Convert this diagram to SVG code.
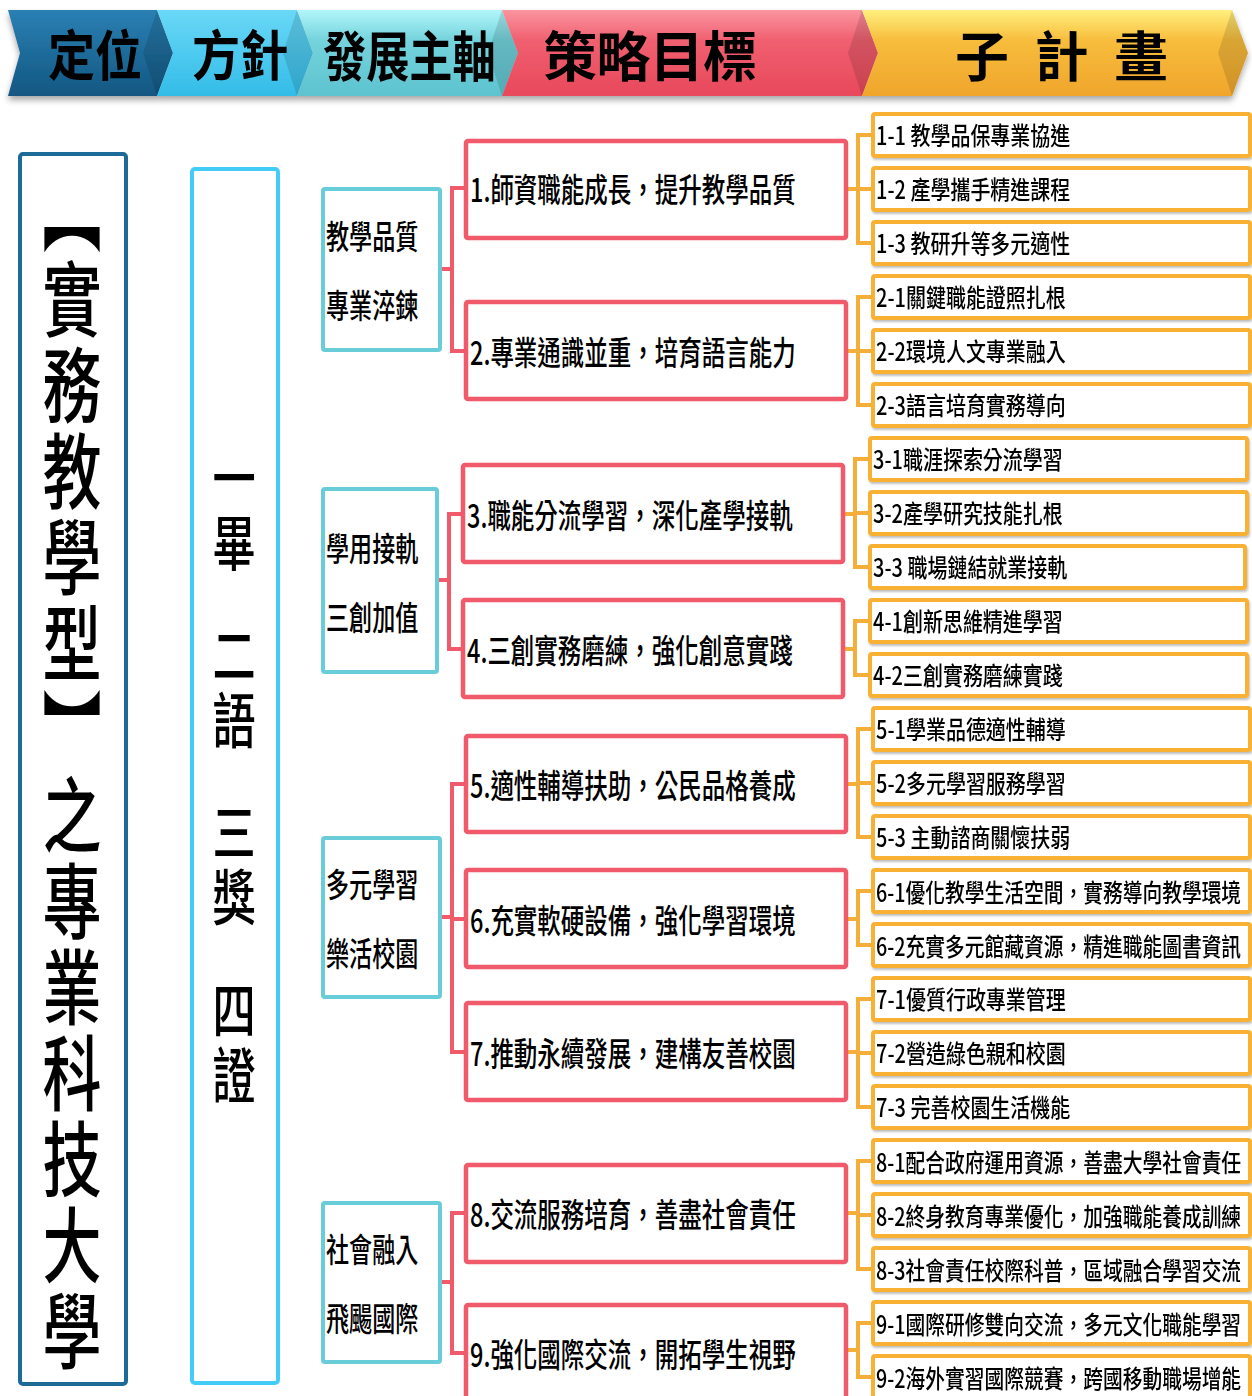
<svg xmlns="http://www.w3.org/2000/svg" width="1252" height="1396" viewBox="0 0 1252 1396">
<defs>
<linearGradient id="g1" x1="0" y1="0" x2="0" y2="1"><stop offset="0" stop-color="#2a80b3"/><stop offset="1" stop-color="#125782"/></linearGradient>
<linearGradient id="g2" x1="0" y1="0" x2="0" y2="1"><stop offset="0" stop-color="#6ad8f7"/><stop offset="1" stop-color="#33bce8"/></linearGradient>
<linearGradient id="g3" x1="0" y1="0" x2="0" y2="1"><stop offset="0" stop-color="#b2f6fb"/><stop offset="0.35" stop-color="#74d3dc"/><stop offset="1" stop-color="#5dc3cf"/></linearGradient>
<linearGradient id="g4" x1="0" y1="0" x2="0" y2="1"><stop offset="0" stop-color="#fb95a0"/><stop offset="0.35" stop-color="#f06070"/><stop offset="1" stop-color="#e8485b"/></linearGradient>
<linearGradient id="g5" x1="0" y1="0" x2="0" y2="1"><stop offset="0" stop-color="#fff07e"/><stop offset="0.35" stop-color="#f7bd3c"/><stop offset="1" stop-color="#f0a52c"/></linearGradient>
<filter id="hs" x="-5%" y="-20%" width="110%" height="150%"><feDropShadow dx="0" dy="4" stdDeviation="3" flood-color="#000" flood-opacity="0.35"/></filter>
<filter id="bs" x="-5%" y="-10%" width="110%" height="130%"><feDropShadow dx="1" dy="2" stdDeviation="1.2" flood-color="#000" flood-opacity="0.25"/></filter>
</defs>
<style>
text { font-family: "Noto Sans CJK TC", "Noto Sans CJK SC", sans-serif; fill: #000; dominant-baseline: central; }
.hd { font-size: 54px; font-weight: 700; }
.vt { font-size: 82px; font-weight: 500; writing-mode: vertical-rl; letter-spacing: 4px; }
.mt { font-size: 60px; font-weight: 500; writing-mode: vertical-rl; letter-spacing: 5px; }
.st { font-size: 33px; font-weight: 500; }
.gt { font-size: 33px; font-weight: 500; }
.pt { font-size: 25px; font-weight: 500; }
.sbox { fill: #fff; stroke: #68cdd9; stroke-width: 4; }
.gbox { fill: #fff; stroke: #f05a6a; stroke-width: 4.5; }
.pbox { fill: #fff; stroke: #f8b133; stroke-width: 4; }
.rc { fill: none; stroke: #f05a6a; stroke-width: 4; }
.oc { fill: none; stroke: #f5ae3a; stroke-width: 4; }
.facet { fill: #000; opacity: 0.12; }
</style>

<g id="header" filter="url(#hs)">
  <g id="h-pos">
    <polygon points="8,10 157,10 173,53 157,96 8,96 20,53" fill="url(#g1)"/>
    <polygon class="facet" points="157,10 173,53 157,96 143,53"/>
    <text class="hd" transform="translate(48,53) scale(0.87,1)">定位</text>
  </g>
  <g id="h-policy">
    <polygon points="157,10 297,10 313,53 297,96 157,96 173,53" fill="url(#g2)"/>
    <polygon class="facet" points="297,10 313,53 297,96 283,53"/>
    <text class="hd" transform="translate(192,53) scale(0.89,1)">方針</text>
  </g>
  <g id="h-axis">
    <polygon points="297,10 502,10 518,53 502,96 297,96 313,53" fill="url(#g3)"/>
    <polygon class="facet" points="502,10 518,53 502,96 488,53"/>
    <text class="hd" transform="translate(323,53) scale(0.8,1)">發展主軸</text>
  </g>
  <g id="h-goal">
    <polygon points="502,10 862,10 878,53 862,96 502,96 518,53" fill="url(#g4)"/>
    <polygon class="facet" points="862,10 878,53 862,96 848,53"/>
    <text class="hd" x="543" y="53" textLength="214" lengthAdjust="spacing">策略目標</text>
  </g>
  <g id="h-sub">
    <polygon points="862,10 1232,10 1248,53 1232,96 862,96 878,53" fill="url(#g5)"/>
    <polygon class="facet" points="1232,10 1248,53 1232,96 1218,53"/>
    <text class="hd" x="955" y="53" textLength="213" lengthAdjust="spacing">子計畫</text>
  </g>
</g>

<g id="positioning">
  <rect x="20" y="154" width="106" height="1230" rx="3" fill="#fff" stroke="#1b6a98" stroke-width="4"/>
  <text class="vt" x="0" y="172" transform="translate(72,0) scale(0.72,1)">【實務教學型】之專業科技大學</text>
</g>

<g id="policy">
  <rect x="192" y="169" width="86" height="1214" rx="3" fill="#fff" stroke="#44ccf8" stroke-width="4"/>
  <text class="mt" x="0" y="448" transform="translate(234,0) scale(0.72,1)">一畢</text>
  <text class="mt" x="0" y="625" transform="translate(234,0) scale(0.72,1)">二語</text>
  <text class="mt" x="0" y="802" transform="translate(234,0) scale(0.72,1)">三獎</text>
  <text class="mt" x="0" y="980" transform="translate(234,0) scale(0.72,1)">四證</text>
</g>

<g id="connectors">
  <path class="rc" d="M440 269 H452 M466 188 H452 V351 H466"/>
  <path class="rc" d="M437 580 H449 M463 514 H449 V649 H463"/>
  <path class="rc" d="M440 917 H452 M466 784 H452 V1052 H466 M452 919 H466"/>
  <path class="rc" d="M440 1282 H452 M466 1213 H452 V1353 H466"/>
  <path class="oc" d="M846 189 H858 M873 135 H858 V243 H873 M858 189 H873"/>
  <path class="oc" d="M846 351 H858 M873 297 H858 V405 H873 M858 351 H873"/>
  <path class="oc" d="M843 514 H855 M870 459 H855 V567 H870 M855 513 H870"/>
  <path class="oc" d="M843 649 H855 M870 621 H855 V675 H870"/>
  <path class="oc" d="M846 784 H858 M873 729 H858 V837 H873 M858 783 H873"/>
  <path class="oc" d="M846 919 H858 M873 891 H858 V945 H873"/>
  <path class="oc" d="M846 1052 H858 M873 999 H858 V1107 H873 M858 1053 H873"/>
  <path class="oc" d="M846 1213 H858 M873 1161 H858 V1269 H873 M858 1215 H873"/>
  <path class="oc" d="M846 1350 H858 M873 1323 H858 V1377 H873"/>
</g>

<g id="axis-A"><rect class="sbox" x="323" y="189" width="117" height="161" rx="2"/>
  <text class="st" transform="translate(326,235) scale(0.7,1)">教學品質</text>
  <text class="st" transform="translate(326,304) scale(0.7,1)">專業淬鍊</text></g>
<g id="axis-B"><rect class="sbox" x="323" y="489" width="114" height="183" rx="2"/>
  <text class="st" transform="translate(326,547) scale(0.7,1)">學用接軌</text>
  <text class="st" transform="translate(326,616) scale(0.7,1)">三創加值</text></g>
<g id="axis-C"><rect class="sbox" x="323" y="838" width="117" height="159" rx="2"/>
  <text class="st" transform="translate(326,883) scale(0.7,1)">多元學習</text>
  <text class="st" transform="translate(326,952) scale(0.7,1)">樂活校園</text></g>
<g id="axis-D"><rect class="sbox" x="323" y="1203" width="117" height="159" rx="2"/>
  <text class="st" transform="translate(326,1248) scale(0.7,1)">社會融入</text>
  <text class="st" transform="translate(326,1317) scale(0.7,1)">飛颺國際</text></g>

<g id="goal-1"><rect class="gbox" x="466" y="141" width="380" height="97" rx="2"/>
  <text class="gt" transform="translate(470,188) scale(0.712,1)">1.師資職能成長，提升教學品質</text></g>
<g id="goal-2"><rect class="gbox" x="466" y="302" width="380" height="97" rx="2"/>
  <text class="gt" transform="translate(470,351) scale(0.712,1)">2.專業通識並重，培育語言能力</text></g>
<g id="goal-3"><rect class="gbox" x="463" y="465" width="380" height="97" rx="2"/>
  <text class="gt" transform="translate(467,514) scale(0.712,1)">3.職能分流學習，深化產學接軌</text></g>
<g id="goal-4"><rect class="gbox" x="463" y="600" width="380" height="97" rx="2"/>
  <text class="gt" transform="translate(467,649) scale(0.712,1)">4.三創實務磨練，強化創意實踐</text></g>
<g id="goal-5"><rect class="gbox" x="466" y="736" width="380" height="96" rx="2"/>
  <text class="gt" transform="translate(470,784) scale(0.712,1)">5.適性輔導扶助，公民品格養成</text></g>
<g id="goal-6"><rect class="gbox" x="466" y="870" width="380" height="97" rx="2"/>
  <text class="gt" transform="translate(470,919) scale(0.712,1)">6.充實軟硬設備，強化學習環境</text></g>
<g id="goal-7"><rect class="gbox" x="466" y="1003" width="380" height="97" rx="2"/>
  <text class="gt" transform="translate(470,1052) scale(0.712,1)">7.推動永續發展，建構友善校園</text></g>
<g id="goal-8"><rect class="gbox" x="466" y="1165" width="380" height="97" rx="2"/>
  <text class="gt" transform="translate(470,1213) scale(0.712,1)">8.交流服務培育，善盡社會責任</text></g>
<g id="goal-9"><rect class="gbox" x="466" y="1305" width="380" height="100" rx="2"/>
  <text class="gt" transform="translate(470,1353) scale(0.712,1)">9.強化國際交流，開拓學生視野</text></g>

<g id="sub-1-1" filter="url(#bs)"><rect class="pbox" x="873" y="114" width="377" height="42" rx="2"/><text class="pt" transform="translate(876,135) scale(0.8,1)">1-1 教學品保專業協進</text></g>
<g id="sub-1-2" filter="url(#bs)"><rect class="pbox" x="873" y="168" width="377" height="42" rx="2"/><text class="pt" transform="translate(876,189) scale(0.8,1)">1-2 產學攜手精進課程</text></g>
<g id="sub-1-3" filter="url(#bs)"><rect class="pbox" x="873" y="222" width="377" height="42" rx="2"/><text class="pt" transform="translate(876,243) scale(0.8,1)">1-3 教研升等多元適性</text></g>
<g id="sub-2-1" filter="url(#bs)"><rect class="pbox" x="873" y="276" width="377" height="42" rx="2"/><text class="pt" transform="translate(876,297) scale(0.8,1)">2-1關鍵職能證照扎根</text></g>
<g id="sub-2-2" filter="url(#bs)"><rect class="pbox" x="873" y="330" width="377" height="42" rx="2"/><text class="pt" transform="translate(876,351) scale(0.8,1)">2-2環境人文專業融入</text></g>
<g id="sub-2-3" filter="url(#bs)"><rect class="pbox" x="873" y="384" width="377" height="42" rx="2"/><text class="pt" transform="translate(876,405) scale(0.8,1)">2-3語言培育實務導向</text></g>
<g id="sub-3-1" filter="url(#bs)"><rect class="pbox" x="870" y="438" width="377" height="42" rx="2"/><text class="pt" transform="translate(873,459) scale(0.8,1)">3-1職涯探索分流學習</text></g>
<g id="sub-3-2" filter="url(#bs)"><rect class="pbox" x="870" y="492" width="377" height="42" rx="2"/><text class="pt" transform="translate(873,513) scale(0.8,1)">3-2產學研究技能扎根</text></g>
<g id="sub-3-3" filter="url(#bs)"><rect class="pbox" x="870" y="546" width="375" height="42" rx="2"/><text class="pt" transform="translate(873,567) scale(0.8,1)">3-3 職場鏈結就業接軌</text></g>
<g id="sub-4-1" filter="url(#bs)"><rect class="pbox" x="870" y="600" width="377" height="42" rx="2"/><text class="pt" transform="translate(873,621) scale(0.8,1)">4-1創新思維精進學習</text></g>
<g id="sub-4-2" filter="url(#bs)"><rect class="pbox" x="870" y="654" width="377" height="42" rx="2"/><text class="pt" transform="translate(873,675) scale(0.8,1)">4-2三創實務磨練實踐</text></g>
<g id="sub-5-1" filter="url(#bs)"><rect class="pbox" x="873" y="708" width="377" height="42" rx="2"/><text class="pt" transform="translate(876,729) scale(0.8,1)">5-1學業品德適性輔導</text></g>
<g id="sub-5-2" filter="url(#bs)"><rect class="pbox" x="873" y="762" width="377" height="42" rx="2"/><text class="pt" transform="translate(876,783) scale(0.8,1)">5-2多元學習服務學習</text></g>
<g id="sub-5-3" filter="url(#bs)"><rect class="pbox" x="873" y="816" width="377" height="42" rx="2"/><text class="pt" transform="translate(876,837) scale(0.8,1)">5-3 主動諮商關懷扶弱</text></g>
<g id="sub-6-1" filter="url(#bs)"><rect class="pbox" x="873" y="870" width="377" height="42" rx="2"/><text class="pt" transform="translate(876,891) scale(0.79,1)">6-1優化教學生活空間，實務導向教學環境</text></g>
<g id="sub-6-2" filter="url(#bs)"><rect class="pbox" x="873" y="924" width="377" height="42" rx="2"/><text class="pt" transform="translate(876,945) scale(0.79,1)">6-2充實多元館藏資源，精進職能圖書資訊</text></g>
<g id="sub-7-1" filter="url(#bs)"><rect class="pbox" x="873" y="978" width="377" height="42" rx="2"/><text class="pt" transform="translate(876,999) scale(0.8,1)">7-1優質行政專業管理</text></g>
<g id="sub-7-2" filter="url(#bs)"><rect class="pbox" x="873" y="1032" width="377" height="42" rx="2"/><text class="pt" transform="translate(876,1053) scale(0.8,1)">7-2營造綠色親和校園</text></g>
<g id="sub-7-3" filter="url(#bs)"><rect class="pbox" x="873" y="1086" width="377" height="42" rx="2"/><text class="pt" transform="translate(876,1107) scale(0.8,1)">7-3 完善校園生活機能</text></g>
<g id="sub-8-1" filter="url(#bs)"><rect class="pbox" x="873" y="1140" width="377" height="42" rx="2"/><text class="pt" transform="translate(876,1161) scale(0.79,1)">8-1配合政府運用資源，善盡大學社會責任</text></g>
<g id="sub-8-2" filter="url(#bs)"><rect class="pbox" x="873" y="1194" width="377" height="42" rx="2"/><text class="pt" transform="translate(876,1215) scale(0.79,1)">8-2終身教育專業優化，加強職能養成訓練</text></g>
<g id="sub-8-3" filter="url(#bs)"><rect class="pbox" x="873" y="1248" width="377" height="42" rx="2"/><text class="pt" transform="translate(876,1269) scale(0.79,1)">8-3社會責任校際科普，區域融合學習交流</text></g>
<g id="sub-9-1" filter="url(#bs)"><rect class="pbox" x="873" y="1302" width="377" height="42" rx="2"/><text class="pt" transform="translate(876,1323) scale(0.79,1)">9-1國際研修雙向交流，多元文化職能學習</text></g>
<g id="sub-9-2" filter="url(#bs)"><rect class="pbox" x="873" y="1356" width="377" height="42" rx="2"/><text class="pt" transform="translate(876,1377) scale(0.79,1)">9-2海外實習國際競賽，跨國移動職場增能</text></g>
</svg>
